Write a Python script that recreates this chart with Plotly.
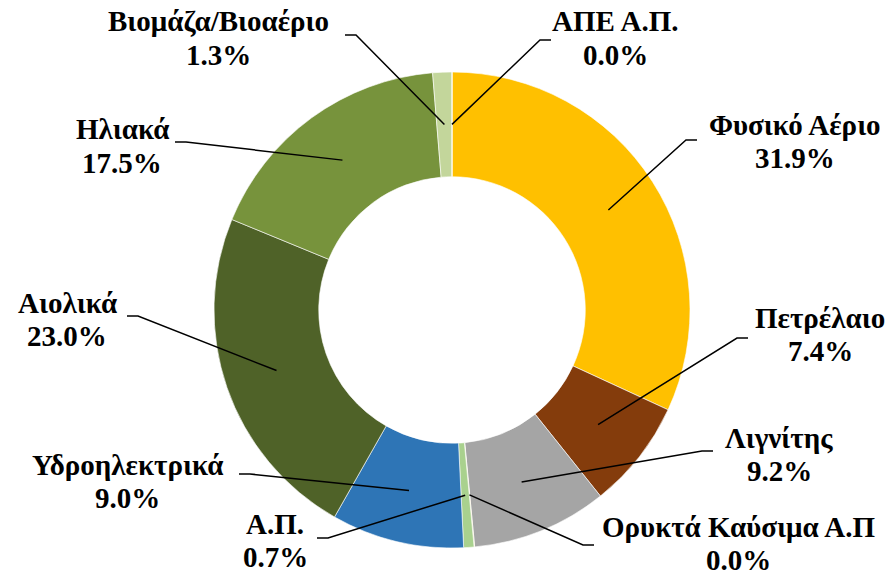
import math
import plotly.graph_objects as go

# ---- data ----
labels = ["Φυσικό Αέριο", "Πετρέλαιο", "Λιγνίτης", "Ορυκτά Καύσιμα Α.Π", "Α.Π.",
          "Υδροηλεκτρικά", "Αιολικά", "Ηλιακά", "Βιομάζα/Βιοαέριο", "ΑΠΕ Α.Π."]
values = [31.9, 7.4, 9.2, 0.04, 0.7, 9.0, 23.0, 17.5, 1.3, 0.0]
colors = ["#FFC000", "#843C0C", "#A5A5A5", "#F4C87A", "#A9D18E",
          "#2E75B6", "#4F6228", "#77933C", "#C3D69B", "#E2F0D9"]

# label layout (pixel positions of text centre, leader anchor, horizontal direction)
label_pos = {
    "Φυσικό Αέριο": (795, 141), "Πετρέλαιο": (820, 334), "Λιγνίτης": (779, 454),
    "Ορυκτά Καύσιμα Α.Π": (738, 543), "Α.Π.": (275, 540), "Υδροηλεκτρικά": (127, 481),
    "Αιολικά": (67, 319), "Ηλιακά": (122, 146), "Βιομάζα/Βιοαέριο": (218, 38),
    "ΑΠΕ Α.Π.": (615, 38),
}
anchor_pos = {
    "Φυσικό Αέριο": (697, 140, -1), "Πετρέλαιο": (748, 338, -1), "Λιγνίτης": (713, 451, -1),
    "Ορυκτά Καύσιμα Α.Π": (594, 545, -1), "Α.Π.": (317, 538, 1), "Υδροηλεκτρικά": (239, 474, 1),
    "Αιολικά": (127, 316, 1), "Ηλιακά": (175, 142, 1), "Βιομάζα/Βιοαέριο": (345, 35, 1),
    "ΑΠΕ Α.Π.": (551, 40, -1),
}

W, H = 894, 578
CX, CY, R = 452, 310, 238
HOLE = 0.56
LINE_GAP = 33

fig = go.Figure(go.Pie(
    labels=labels, values=values, sort=False, direction="clockwise", rotation=0,
    hole=HOLE, textinfo="none", hoverinfo="label+percent",
    marker=dict(colors=colors, line=dict(color="white", width=0.6)),
    domain=dict(x=[(CX - R) / W, (CX + R) / W], y=[1 - (CY + R) / H, 1 - (CY - R) / H]),
    showlegend=False,
))

font = dict(family="Liberation Serif", size=29, color="#000000")
total = sum(values)
r_mid = R * (1 + HOLE) / 2
cum = 0.0
shapes, annotations = [], []
for lab, v in zip(labels, values):
    mid = (cum + v / 2) / total
    cum += v
    ang = 2 * math.pi * mid
    tx = CX + r_mid * math.sin(ang)
    ty = CY - r_mid * math.cos(ang)
    ax, ay, d = anchor_pos[lab]
    ex = ax + d * 11
    path = f"M {ax/W} {1-ay/H} L {ex/W} {1-ay/H} L {tx/W} {1-ty/H}"
    shapes.append(dict(type="path", xref="paper", yref="paper", path=path,
                       line=dict(color="black", width=1.5)))
    lx, ly = label_pos[lab]
    pct = v / total * 100
    for txt, yy in ((lab, ly - LINE_GAP / 2), (f"{pct:.1f}%", ly + LINE_GAP / 2)):
        annotations.append(dict(
            x=lx / W, y=1 - yy / H, xref="paper", yref="paper", showarrow=False,
            xanchor="center", yanchor="middle", align="center", borderpad=0,
            text=f"<b>{txt}</b>", font=font))

fig.update_layout(
    width=W, height=H, margin=dict(l=0, r=0, t=0, b=0),
    paper_bgcolor="white", plot_bgcolor="white",
    shapes=shapes, annotations=annotations,
)
fig.write_html("out.html", config={"displayModeBar": False},
               post_script="document.body.style.margin='0';")
